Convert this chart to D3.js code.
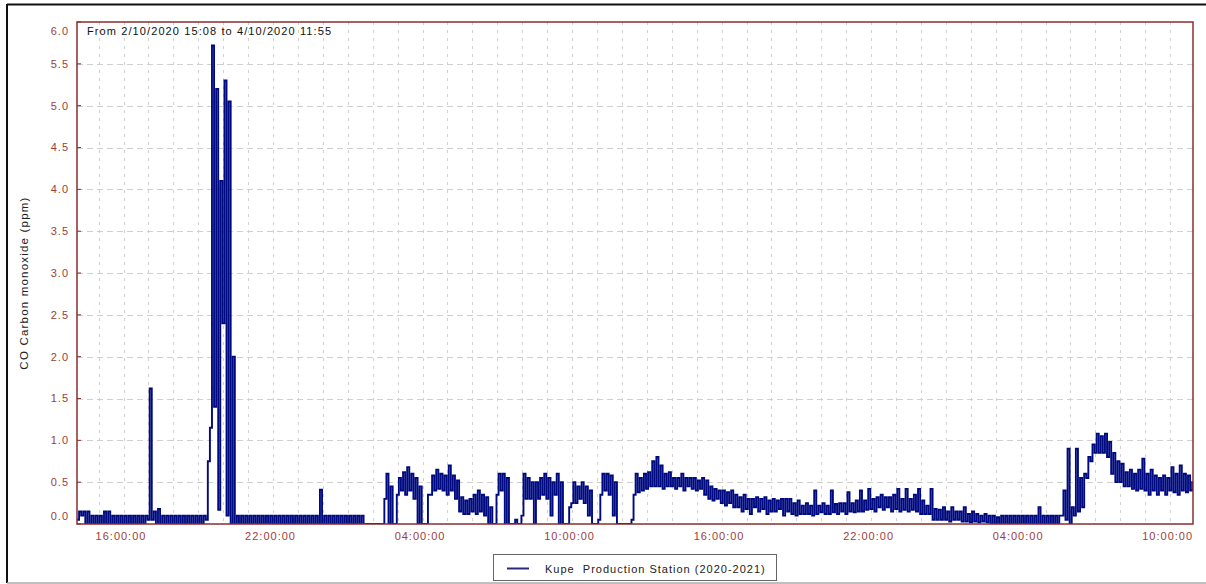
<!DOCTYPE html>
<html><head><meta charset="utf-8">
<script src="https://cdn.jsdelivr.net/npm/d3@7"></script>
<style>
body{margin:0;background:#fff;}
svg{display:block;font-family:"Liberation Sans",Arial,sans-serif;}
</style>
</head><body>
<svg id="chart" width="1206" height="584"></svg>
<script>
// ---------- data ----------
const startTime = new Date(2020, 9, 2, 15, 8);
const endTime = new Date(2020, 9, 4, 11, 55);
const binMinutes = 10;
const titleText = "From 2/10/2020 15:08 to 4/10/2020 11:55";
const yAxisTitle = "CO Carbon monoxide (ppm)";
const seriesName = "Kupe  Production Station (2020-2021)";
const yTicks = [0, 0.5, 1, 1.5, 2, 2.5, 3, 3.5, 4, 4.5, 5, 5.5, 6];
const xTickHoursOfDay = [4, 10, 16, 22];

// per 10-minute bin: low and high reading (ppm)
const coLow = [
0.05,0.1,0,0,0,0,0,0,0,0,
0,0,0,0,0,0,0,0.05,0.05,0,
0,0,0,0,0,0,0,0,0,0,
0,0.05,1.15,1.4,0.17,2.4,0.1,0,0,0,
0,0,0,0,0,0,0,0,0,0,
0,0,0,0,0,0,0,0,0,0,
0,0,0,0,0,0,0,0,0,0,
0,0,0,0,0.3,0,0,0.35,0.4,0.35,
0.4,0.3,0,0,0,0.35,0.4,0.42,0.4,0.35,
0.4,0.3,0.15,0.12,0.12,0.15,0.12,0.15,0.1,0,
0,0.35,0.4,0,0,0,0,0.1,0.3,0.3,
0,0.3,0.35,0.3,0.1,0.35,0,0,0,0.25,
0.25,0.3,0.25,0.1,0,0,0.35,0.4,0.35,0.1,
0,0,0,0,0.35,0.38,0.4,0.42,0.45,0.45,
0.45,0.42,0.45,0.45,0.42,0.45,0.4,0.45,0.42,0.4,
0.42,0.35,0.3,0.28,0.3,0.25,0.22,0.25,0.2,0.2,
0.15,0.18,0.12,0.2,0.15,0.18,0.12,0.15,0.15,0.18,
0.1,0.15,0.12,0.1,0.12,0.12,0.12,0.1,0.12,0.14,
0.12,0.12,0.14,0.12,0.15,0.12,0.15,0.14,0.15,0.15,
0.17,0.18,0.15,0.2,0.17,0.2,0.15,0.18,0.15,0.17,
0.15,0.17,0.15,0.12,0.12,0.12,0.05,0.05,0.05,0.05,
0.03,0.05,0.05,0.03,0.03,0.02,0.03,0.02,0.03,0.02,
0,0,0,0,0,0,0,0,0,0,
0,0,0,0,0,0,0,0.1,0.05,0,
0.1,0.15,0.2,0.55,0.75,0.85,0.85,0.85,0.8,0.6,
0.5,0.5,0.45,0.45,0.42,0.4,0.42,0.4,0.35,0.4,
0.35,0.4,0.35,0.4,0.38,0.35,0.4,0.38,0.4
];
const coHigh = [
0.15,0.15,0.15,0.1,0.1,0.1,0.15,0.15,0.1,0.1,
0.1,0.1,0.1,0.1,0.1,0.1,0.1,1.62,0.15,0.18,
0.1,0.1,0.1,0.1,0.1,0.1,0.1,0.1,0.1,0.1,
0.1,0.75,5.72,5.2,4.1,5.3,5.05,2.0,0.1,0.1,
0.1,0.1,0.1,0.1,0.1,0.1,0.1,0.1,0.1,0.1,
0.1,0.1,0.1,0.1,0.1,0.1,0.1,0.1,0.41,0.1,
0.1,0.1,0.1,0.1,0.1,0.1,0.1,0.1,0.1,0,
0,0,0,0,0.6,0.45,0,0.55,0.62,0.68,
0.6,0.55,0.45,0,0.35,0.58,0.65,0.6,0.58,0.7,
0.58,0.52,0.32,0.28,0.3,0.35,0.4,0.35,0.32,0.2,
0,0.6,0.6,0.55,0,0.05,0,0.6,0.55,0.5,
0.5,0.55,0.6,0.55,0.5,0.6,0.5,0,0.2,0.5,
0.45,0.5,0.45,0.4,0,0.05,0.6,0.6,0.58,0.5,
0,0,0,0.05,0.6,0.55,0.6,0.62,0.75,0.8,
0.7,0.6,0.62,0.55,0.55,0.6,0.55,0.55,0.55,0.52,
0.55,0.52,0.45,0.42,0.4,0.4,0.38,0.4,0.35,0.32,
0.35,0.3,0.3,0.32,0.3,0.32,0.28,0.3,0.28,0.3,
0.3,0.3,0.25,0.28,0.22,0.25,0.22,0.4,0.22,0.25,
0.22,0.4,0.24,0.25,0.25,0.38,0.25,0.28,0.4,0.28,
0.42,0.3,0.32,0.35,0.32,0.32,0.35,0.42,0.3,0.42,
0.3,0.35,0.42,0.28,0.22,0.42,0.18,0.17,0.2,0.15,
0.2,0.15,0.15,0.2,0.12,0.15,0.12,0.1,0.12,0.1,
0.1,0.08,0.1,0.1,0.1,0.1,0.1,0.1,0.1,0.1,
0.1,0.2,0.1,0.1,0.1,0.1,0.1,0.4,0.9,0.2,
0.9,0.55,0.6,0.8,0.95,1.08,1.05,1.08,0.98,0.85,
0.75,0.72,0.62,0.65,0.6,0.65,0.78,0.6,0.65,0.58,
0.55,0.58,0.55,0.68,0.6,0.7,0.6,0.58,0.5
];

// ---------- layout ----------
const svg = d3.select("#chart");
const plot = {left: 77, top: 22, right: 1193, bottom: 524};
const axisColor = "#8a2e2e";
const labelColor = "#9c3d3d";
const gridColor = "#cfcfcf";
const lineColor = "#000a80";

const x = d3.scaleTime().domain([startTime, endTime]).range([plot.left, plot.right]);
const y = d3.scaleLinear().domain([0, 6]).range([plot.bottom, plot.top]);

// outer frame
svg.append("line").attr("x1", 7).attr("x2", 1206).attr("y1", 4.5).attr("y2", 4.5).attr("stroke", "#111").attr("stroke-width", 2);
svg.append("line").attr("x1", 7).attr("x2", 7).attr("y1", 4).attr("y2", 583).attr("stroke", "#111").attr("stroke-width", 2);
svg.append("line").attr("x1", 7).attr("x2", 1206).attr("y1", 583).attr("y2", 583).attr("stroke", "#aaa").attr("stroke-width", 1.5);

// grid
const hours = d3.timeHour.range(startTime, endTime);
svg.append("g").selectAll("line").data(hours).join("line")
  .attr("x1", d => Math.round(x(d)) + 0.5).attr("x2", d => Math.round(x(d)) + 0.5)
  .attr("y1", plot.top).attr("y2", plot.bottom)
  .attr("stroke", gridColor).attr("stroke-width", 1).attr("stroke-dasharray", "3,5");
svg.append("g").selectAll("line").data(yTicks.filter(v => v > 0 && v < 6)).join("line")
  .attr("x1", plot.left).attr("x2", plot.right)
  .attr("y1", d => Math.round(y(d)) + 0.5).attr("y2", d => Math.round(y(d)) + 0.5)
  .attr("stroke", gridColor).attr("stroke-width", 1).attr("stroke-dasharray", "6,4");

// data series
const pts = [];
coLow.forEach((lo, i) => {
  const t0 = d3.timeMinute.offset(startTime, i * binMinutes);
  pts.push({t: t0, v: lo});
  pts.push({t: d3.timeMinute.offset(t0, binMinutes / 2), v: coHigh[i]});
});
pts.push({t: endTime, v: coHigh[coHigh.length - 1]});

svg.append("clipPath").attr("id", "clip").append("rect")
  .attr("x", plot.left).attr("y", plot.top - 2)
  .attr("width", plot.right - plot.left).attr("height", plot.bottom - plot.top + 2);

const line = d3.line().x(d => x(d.t)).y(d => y(d.v)).curve(d3.curveStepAfter);
svg.append("path").datum(pts).attr("clip-path", "url(#clip)")
  .attr("d", line).attr("fill", "none").attr("stroke", lineColor).attr("stroke-width", 1.9);

// plot border
svg.append("rect").attr("x", plot.left).attr("y", plot.top)
  .attr("width", plot.right - plot.left).attr("height", plot.bottom - plot.top)
  .attr("fill", "none").attr("stroke", axisColor).attr("stroke-width", 1.5);

// y axis ticks + labels
const yAxisG = svg.append("g");
yAxisG.selectAll("line").data(yTicks).join("line")
  .attr("x1", plot.left).attr("x2", plot.left + 4)
  .attr("y1", d => y(d)).attr("y2", d => y(d))
  .attr("stroke", axisColor).attr("stroke-width", 1);
yAxisG.selectAll("text").data(yTicks).join("text")
  .attr("x", 69).attr("y", d => Math.min(Math.max(y(d), 31), 516))
  .attr("dy", "0.35em").attr("text-anchor", "end")
  .attr("font-size", 11).attr("letter-spacing", 1).attr("fill", labelColor)
  .text(d => d.toFixed(1));

// x axis labels
const xTicks = hours.filter(d => d.getMinutes() === 0 && xTickHoursOfDay.includes(d.getHours()));
const fmt = d3.timeFormat("%H:%M:%S");
svg.append("g").selectAll("text").data(xTicks).join("text")
  .attr("x", d => x(d) - 3).attr("y", 540)
  .attr("font-size", 11).attr("letter-spacing", 1).attr("fill", labelColor)
  .text(d => fmt(d));

// title inside plot
svg.append("text").attr("x", 87).attr("y", 35)
  .attr("font-size", 11).attr("letter-spacing", 1.1).attr("fill", "#111")
  .text(titleText);

// y axis title
svg.append("text").attr("transform", "translate(28,283) rotate(-90)")
  .attr("text-anchor", "middle").attr("font-size", 11.5).attr("letter-spacing", 1.2).attr("fill", "#222")
  .text(yAxisTitle);

// legend
const lg = svg.append("g");
lg.append("rect").attr("x", 493.5).attr("y", 554.5).attr("width", 283).attr("height", 26)
  .attr("fill", "#fff").attr("stroke", "#666").attr("stroke-width", 1);
lg.append("line").attr("x1", 507).attr("x2", 529).attr("y1", 568.5).attr("y2", 568.5)
  .attr("stroke", "#2a2a7a").attr("stroke-width", 2);
lg.append("text").attr("x", 545).attr("y", 572.5)
  .attr("font-size", 11).attr("letter-spacing", 1).attr("fill", "#222")
  .style("white-space", "pre")
  .text(seriesName);
</script>
</body></html>
